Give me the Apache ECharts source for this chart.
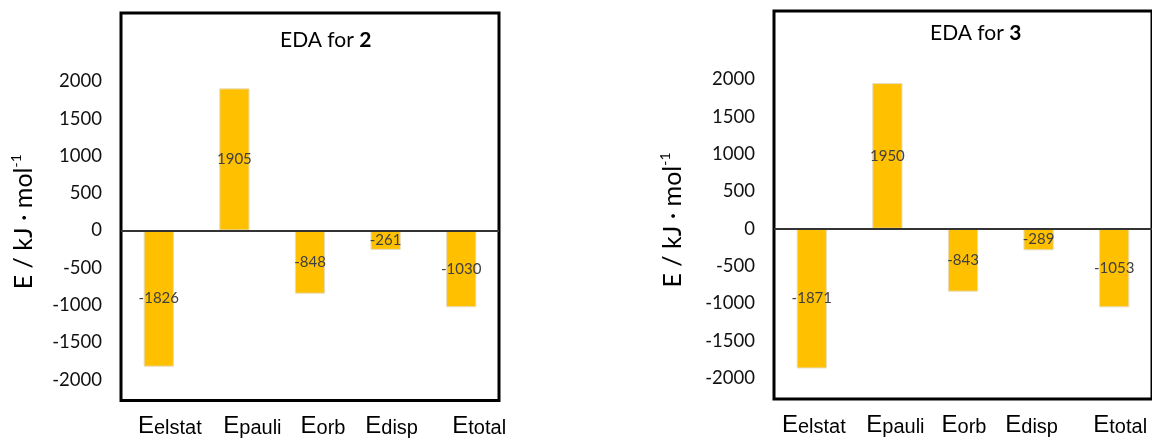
<!DOCTYPE html>
<html>
<head>
<meta charset="utf-8">
<title>EDA</title>
<script src="https://cdn.jsdelivr.net/npm/echarts@6/dist/echarts.min.js"></script>
<style>
  html, body { margin: 0; padding: 0; background: #fff; }
  #chart { width: 1152px; height: 441px; }
</style>
</head>
<body>
<div id="chart"></div>
<script>
// Energy decomposition terms (subscripts of E) and values in kJ/mol
const categories = ['elstat', 'pauli', 'orb', 'disp', 'total'];
const eda2 = [-1826, 1905, -848, -261, -1030];
const eda3 = [-1871, 1950, -843, -289, -1053];
const compounds = ['2', '3'];
const yTicks = [-2000, -1500, -1000, -500, 0, 500, 1000, 1500, 2000];

// value range covered by each framed plot
const Y_MIN = -2280;
const Y_MAX = 2915;

const BAR_COLOR = '#FFC000';
const SANS = 'Lato, "Open Sans", sans-serif';
const ARIAL = '"Liberation Sans", Arial, sans-serif';

// per-panel layout
const panels = [
  { data: eda2, grid: { left: 121, right: 653, top: 13, bottom: 40.5 },
    titleLeft: 280, titleTop: 27, nameGap: 82, nameShift: 30,
    catShift: [11, 18, 13, 6, 18] },
  { data: eda3, grid: { left: 774, right: -2, top: 11, bottom: 42 },
    titleLeft: 930, titleTop: 20, nameGap: 86, nameShift: 30,
    catShift: [2, 8, 1, -7, 6] }
];

function catRich(shifts) {
  const rich = {
    e: { fontFamily: ARIAL, fontSize: 24, color: '#000', verticalAlign: 'bottom' },
    s: { fontFamily: ARIAL, fontSize: 20, color: '#000', verticalAlign: 'bottom' }
  };
  shifts.forEach((d, i) => {
    rich['l' + i] = { width: Math.max(0, 2 * d), fontSize: 10 };
    rich['r' + i] = { width: Math.max(0, -2 * d), fontSize: 10 };
  });
  return rich;
}

const option = {
  animation: false,
  backgroundColor: '#fff',
  title: panels.map((p, i) => ({
    text: '{n|EDA for }{b|' + compounds[i] + '}',
    left: p.titleLeft,
    top: p.titleTop,
    padding: 0,
    textStyle: {
      fontWeight: 'normal',
      rich: {
        n: { fontFamily: SANS, fontSize: 21, fontWeight: 'normal', color: '#000', lineHeight: 26 },
        b: { fontFamily: SANS, fontSize: 21, fontWeight: 'bold', color: '#000', lineHeight: 26 }
      }
    }
  })),
  grid: panels.map(p => Object.assign({
    show: true,
    borderColor: '#000',
    borderWidth: 3,
    backgroundColor: 'transparent',
    containLabel: false
  }, p.grid)),
  xAxis: panels.map((p, i) => ({
    type: 'category',
    gridIndex: i,
    data: categories,
    position: 'bottom',
    axisLine: { show: false, onZero: false },
    axisTick: { show: false },
    splitLine: { show: false },
    axisLabel: {
      margin: 14,
      interval: 0,
      formatter: (v, idx) => '{l' + idx + '| }{e|E}{s|' + v + '}{r' + idx + '| }',
      rich: catRich(p.catShift)
    }
  })),
  yAxis: panels.map((p, i) => ({
    type: 'value',
    gridIndex: i,
    min: Y_MIN,
    max: Y_MAX,
    axisLine: { show: false },
    axisTick: { show: false },
    splitLine: { show: false },
    axisLabel: {
      customValues: yTicks,
      formatter: v => String(v),
      margin: 19,
      fontFamily: SANS,
      fontSize: 18.5,
      color: '#111'
    },
    name: '{m|E / kJ · mol}{p|-1}',
    nameLocation: 'middle',
    nameRotate: 90,
    nameGap: p.nameGap,
    nameTextStyle: {
      padding: [0, p.nameShift, 0, 0],
      rich: {
        m: { fontFamily: SANS, fontSize: 25, color: '#000', lineHeight: 30 },
        p: { fontFamily: SANS, fontSize: 14, color: '#000', verticalAlign: 'top', lineHeight: 30 }
      }
    }
  })),
  series: panels.map((p, i) => ({
    type: 'bar',
    xAxisIndex: i,
    yAxisIndex: i,
    data: p.data,
    barCategoryGap: '60%',
    itemStyle: { color: BAR_COLOR, borderColor: '#e6dcc0', borderWidth: 1 },
    label: {
      show: true,
      position: 'inside',
      fontFamily: SANS,
      fontSize: 15,
      color: '#404040'
    },
    markLine: {
      silent: true,
      symbol: 'none',
      label: { show: false },
      lineStyle: { color: '#333', width: 2, type: 'solid' },
      data: [{ yAxis: 0 }]
    }
  }))
};

const chart = echarts.init(document.getElementById('chart'), null, { renderer: 'canvas' });
chart.setOption(option);
</script>
</body>
</html>
